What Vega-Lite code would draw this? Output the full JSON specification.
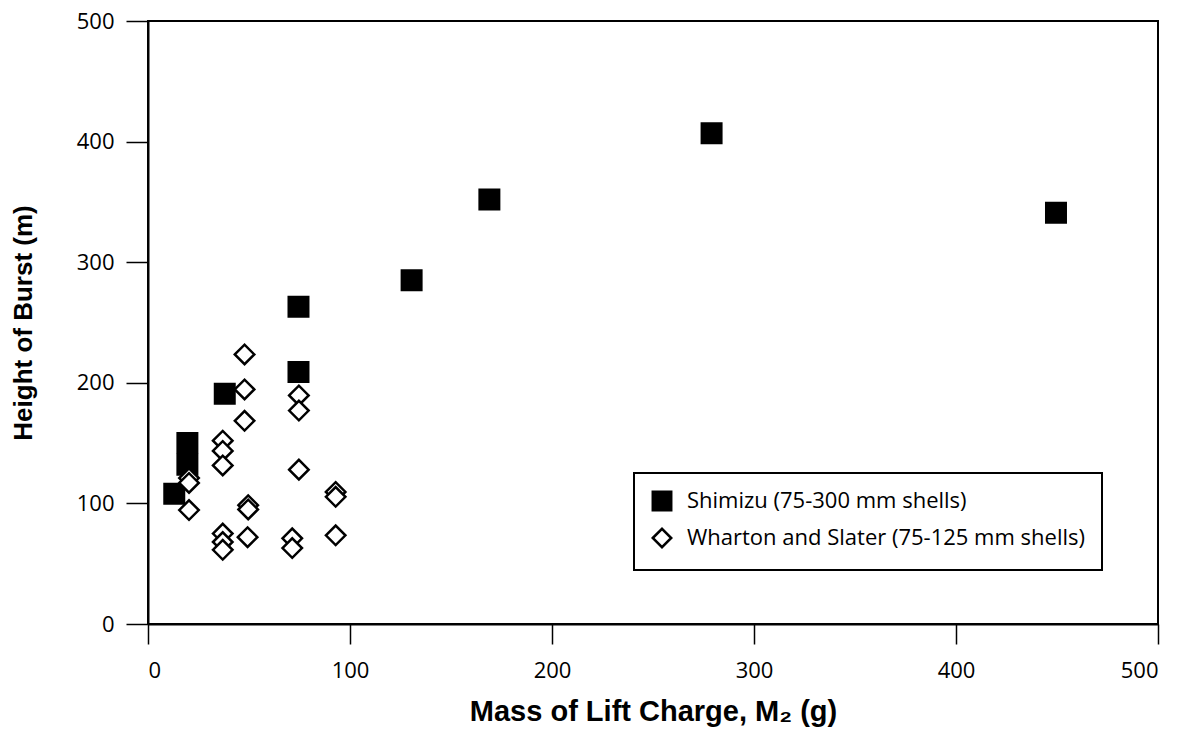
{
  "$schema": "https://vega.github.io/schema/vega-lite/v6.json",
  "autosize": {"type": "none"},
  "padding": {"left": 148, "top": 21, "right": 33, "bottom": 105},
  "width": 1010,
  "height": 603,
  "background": "white",
  "config": {
    "view": {"stroke": "black", "strokeWidth": 2},
    "legend": {"strokeColor": "black", "strokeWidth": 2, "fillColor": "white"},
    "axis": {
      "grid": false,
      "domainColor": "black",
      "domainWidth": 2,
      "tickColor": "black",
      "tickWidth": 1.5,
      "labelFont": "Open Sans",
      "labelFontSize": 22,
      "labelColor": "black",
      "titleFont": "Liberation Sans",
      "titleFontWeight": "bold",
      "titleColor": "black"
    }
  },
  "data": {
    "values": [
      {"series": "Shimizu (75-300 mm shells)", "mass": 13, "height": 108},
      {"series": "Shimizu (75-300 mm shells)", "mass": 19.5, "height": 150},
      {"series": "Shimizu (75-300 mm shells)", "mass": 19.5, "height": 132},
      {"series": "Shimizu (75-300 mm shells)", "mass": 38, "height": 191},
      {"series": "Shimizu (75-300 mm shells)", "mass": 74.5, "height": 209},
      {"series": "Shimizu (75-300 mm shells)", "mass": 74.5, "height": 263},
      {"series": "Shimizu (75-300 mm shells)", "mass": 130.5, "height": 285},
      {"series": "Shimizu (75-300 mm shells)", "mass": 169, "height": 352},
      {"series": "Shimizu (75-300 mm shells)", "mass": 279, "height": 407},
      {"series": "Shimizu (75-300 mm shells)", "mass": 449.5, "height": 341},
      {"series": "Wharton and Slater (75-125 mm shells)", "mass": 20.3, "height": 121},
      {"series": "Wharton and Slater (75-125 mm shells)", "mass": 20.3, "height": 117},
      {"series": "Wharton and Slater (75-125 mm shells)", "mass": 20.3, "height": 94.5},
      {"series": "Wharton and Slater (75-125 mm shells)", "mass": 37, "height": 152},
      {"series": "Wharton and Slater (75-125 mm shells)", "mass": 37, "height": 143.5},
      {"series": "Wharton and Slater (75-125 mm shells)", "mass": 37, "height": 131.5},
      {"series": "Wharton and Slater (75-125 mm shells)", "mass": 37, "height": 75},
      {"series": "Wharton and Slater (75-125 mm shells)", "mass": 37, "height": 68},
      {"series": "Wharton and Slater (75-125 mm shells)", "mass": 37, "height": 61.5},
      {"series": "Wharton and Slater (75-125 mm shells)", "mass": 47.8, "height": 223.5},
      {"series": "Wharton and Slater (75-125 mm shells)", "mass": 47.8, "height": 194.5},
      {"series": "Wharton and Slater (75-125 mm shells)", "mass": 47.8, "height": 168.5},
      {"series": "Wharton and Slater (75-125 mm shells)", "mass": 49.6, "height": 98.5},
      {"series": "Wharton and Slater (75-125 mm shells)", "mass": 49.6, "height": 95},
      {"series": "Wharton and Slater (75-125 mm shells)", "mass": 49.3, "height": 72},
      {"series": "Wharton and Slater (75-125 mm shells)", "mass": 71.4, "height": 71},
      {"series": "Wharton and Slater (75-125 mm shells)", "mass": 71.4, "height": 63},
      {"series": "Wharton and Slater (75-125 mm shells)", "mass": 74.7, "height": 189.5},
      {"series": "Wharton and Slater (75-125 mm shells)", "mass": 74.7, "height": 177},
      {"series": "Wharton and Slater (75-125 mm shells)", "mass": 74.7, "height": 128},
      {"series": "Wharton and Slater (75-125 mm shells)", "mass": 92.9, "height": 109.5},
      {"series": "Wharton and Slater (75-125 mm shells)", "mass": 92.9, "height": 105.5},
      {"series": "Wharton and Slater (75-125 mm shells)", "mass": 92.9, "height": 73.5}
    ]
  },
  "mark": {"type": "point", "filled": true, "stroke": "black", "strokeWidth": 2.5, "opacity": 1, "size": 380},
  "encoding": {
    "x": {
      "field": "mass",
      "type": "quantitative",
      "scale": {"domain": [0, 500], "nice": false, "zero": true},
      "axis": {
        "values": [0, 100, 200, 300, 400, 500],
        "tickSize": 20,
        "labelPadding": 16,
        "title": "Mass of Lift Charge, M₂ (g)",
        "titleFontSize": 29,
        "titlePadding": 16
      }
    },
    "y": {
      "field": "height",
      "type": "quantitative",
      "scale": {"domain": [0, 500], "nice": false, "zero": true},
      "axis": {
        "values": [0, 100, 200, 300, 400, 500],
        "tickSize": 22,
        "labelPadding": 12,
        "title": "Height of Burst (m)",
        "titleFontSize": 26,
        "titlePadding": 40
      }
    },
    "fill": {
      "field": "series",
      "type": "nominal",
      "scale": {
        "domain": ["Shimizu (75-300 mm shells)", "Wharton and Slater (75-125 mm shells)"],
        "range": ["black", "white"]
      },
      "legend": {
        "title": null,
        "orient": "none",
        "legendX": 486,
        "legendY": 452,
        "padding": 17,
        "labelFont": "Open Sans",
        "labelFontSize": 22,
        "labelColor": "black",
        "labelOffset": 14,
        "labelLimit": 500,
        "symbolSize": 340,
        "symbolStrokeWidth": 2.5,
        "symbolStrokeColor": "black",
        "rowPadding": 7
      }
    },
    "shape": {
      "field": "series",
      "type": "nominal",
      "scale": {
        "domain": ["Shimizu (75-300 mm shells)", "Wharton and Slater (75-125 mm shells)"],
        "range": ["square", "diamond"]
      }
    }
  }
}
